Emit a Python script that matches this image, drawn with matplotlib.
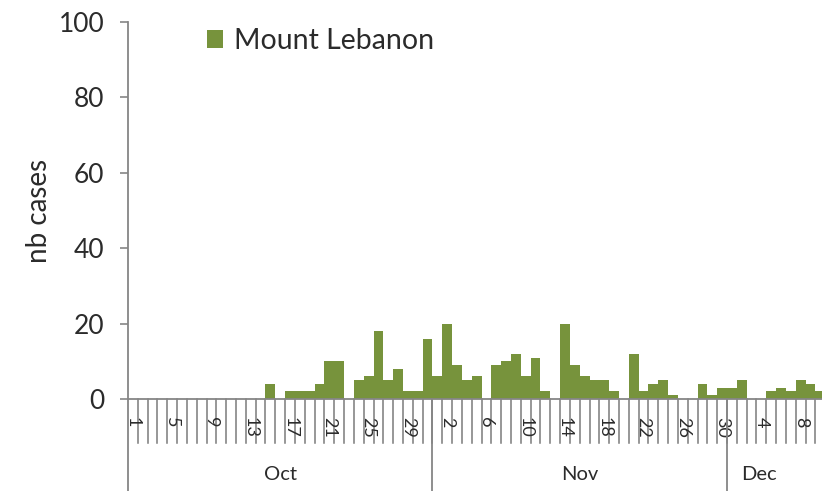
import matplotlib
matplotlib.use("Agg")
import matplotlib.pyplot as plt
from matplotlib.transforms import blended_transform_factory
from matplotlib.patches import Patch

# ---------------- data ----------------
months = ["Oct", "Nov", "Dec"]
oct_cases = [0, 0, 0, 0, 0, 0, 0, 0, 0, 0, 0, 0, 0, 0, 4, 0, 2, 2, 2, 4,
             10, 10, 0, 5, 6, 18, 5, 8, 2, 2, 16]
nov_cases = [6, 20, 9, 5, 6, 0, 9, 10, 12, 6, 11, 2, 0, 20, 9, 6, 5, 5, 2, 0,
             12, 2, 4, 5, 1, 0, 0, 4, 1, 3]
dec_cases = [3, 5, 0, 0, 2, 3, 2, 5, 4, 2]
series_name = "Mount Lebanon"
y_label = "nb cases"
y_ticks = [0, 20, 40, 60, 80, 100]
label_every = 4

month_series = [oct_cases, nov_cases, dec_cases]
days, values, month_start = [], [], []
for vals in month_series:
    month_start.append(len(values))
    days += list(range(1, len(vals) + 1))
    values += vals
n = len(values)

# ---------------- style ----------------
FONT = ["Lato", "DejaVu Sans"]
plt.rcParams["font.family"] = FONT
GREEN = "#77933C"
AXIS = "#868686"
TEXT = "#2b2b2b"

W, H = 822, 491
fig = plt.figure(figsize=(W / 100, H / 100), dpi=100)
left_px, right_px, top_px, bot_px = 128, 822, 22, 399
ax = fig.add_axes([left_px / W, 1 - bot_px / H, (right_px - left_px) / W,
                   (bot_px - top_px) / H])

x = list(range(n))
ax.bar(x, values, width=1.0, color=GREEN, edgecolor="none", label=series_name)

ax.set_xlim(-0.5, 70.17)
ax.set_ylim(0, 100)
ax.set_yticks(y_ticks)
ax.set_yticklabels([str(t) for t in y_ticks])
ax.tick_params(axis="y", direction="out", length=6, width=1.2, color=AXIS,
               labelsize=19, labelcolor=TEXT, pad=11)

for s in ["top", "right"]:
    ax.spines[s].set_visible(False)
for s in ["left", "bottom"]:
    ax.spines[s].set_color(AXIS)
    ax.spines[s].set_linewidth(1.3)

# day tick labels
lab_idx = [i for i in range(n) if i % label_every == 0]
ax.set_xticks(lab_idx)
ax.set_xticklabels([str(days[i]) for i in lab_idx], rotation=270)
ax.tick_params(axis="x", length=0, labelsize=13, labelcolor=TEXT, pad=13)

# category separators below axis
trans = blended_transform_factory(ax.transData, ax.transAxes)
tick_depth = -(443 - bot_px) / (bot_px - top_px)
bottom_depth = -(H - bot_px) / (bot_px - top_px)
for i in range(n):
    xb = i + 0.5
    ax.plot([xb, xb], [0, tick_depth], transform=trans, color="#7a7a7a",
            lw=1.1, clip_on=False, zorder=1)
# group separators (month boundaries) and left edge
for ms in month_start:
    xb = ms - 0.5
    ax.plot([xb, xb], [0, bottom_depth], transform=trans, color=AXIS,
            lw=1.3, clip_on=False, zorder=2)

# month labels
month_y = -(475 - bot_px) / (bot_px - top_px)
for k, (m, ms) in enumerate(zip(months, month_start)):
    length = len(month_series[k])
    if k < len(months) - 1:
        xc = ms - 0.5 + length / 2
    else:
        xc = ms - 0.5 + 3.2
    ax.text(xc, month_y, m, transform=trans, ha="center", va="center",
            fontsize=14.5, color=TEXT)

ax.set_ylabel(y_label, fontsize=20, color=TEXT, labelpad=5)

# legend
handle = Patch(facecolor=GREEN, edgecolor="none", label=series_name)
fig.legend(handles=[handle], loc="center left",
           bbox_to_anchor=(207 / W, 1 - 41 / H), frameon=False,
           fontsize=20.5, handlelength=0.55, handleheight=0.55,
           handletextpad=0.4, borderpad=0, borderaxespad=0,
           labelcolor=TEXT)

fig.savefig("out.png", dpi=100, facecolor="white")
